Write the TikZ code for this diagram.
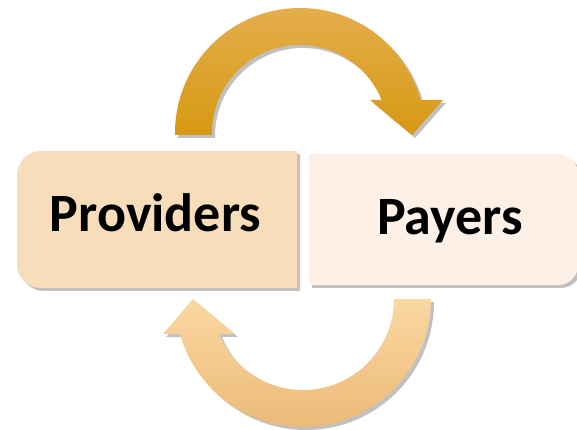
\documentclass[tikz,border=0pt]{standalone}
\usepackage{fontspec}
\setmainfont{Carlito}
\usetikzlibrary{shadows}

\definecolor{provfill}{HTML}{F8DDBA}
\definecolor{payfill}{HTML}{FCF0E7}
\definecolor{goldtop}{HTML}{E4AD4C}
\definecolor{goldbot}{HTML}{D79912}
\definecolor{peachtop}{HTML}{FAD8A2}
\definecolor{peachbot}{HTML}{ECBA78}

\begin{document}
\begin{tikzpicture}[x=1pt, y=1pt,
    softshadow/.style={drop shadow={shadow xshift=3pt, shadow yshift=-3pt, opacity=0.35, fill=black!70}},
    boxtext/.style={font=\fontsize{54}{60}\selectfont\bfseries, anchor=base, inner sep=0pt}]
  \useasboundingbox (0,0) rectangle (577,430);
  % Boxes
  \fill[provfill, softshadow] (297,279) [rounded corners=24] -- (17,279) -- (17,142)
    [sharp corners] -- (297,142) -- cycle;
  \fill[payfill, softshadow] (309,276) [rounded corners=20] -- (578,276) -- (578,145)
    [sharp corners] -- (309,145) -- cycle;
  \node[boxtext] (providers) at (155.5,198) {Providers};
  \node[boxtext] (payers) at (450,195) {Payers};
  % Top arrow
  \path[top color=goldtop, bottom color=goldbot, softshadow]
    (175,295) -- (175,297) arc[start angle=180, end angle=15.3, radius=125]
    -- (443,330) -- (412,295) -- (370,330) -- (381.6,330)
    arc[start angle=22, end angle=180, radius=88] -- (212,295) -- cycle;
  % Bottom arrow
  \path[top color=peachtop, bottom color=peachbot, softshadow]
    (431,131) arc[start angle=0, end angle=-164.1, radius=128]
    -- (163,96) -- (193,131) -- (235,96) -- (219,96)
    arc[start angle=-157.4, end angle=0, radius=91] -- cycle;
\end{tikzpicture}
\end{document}
